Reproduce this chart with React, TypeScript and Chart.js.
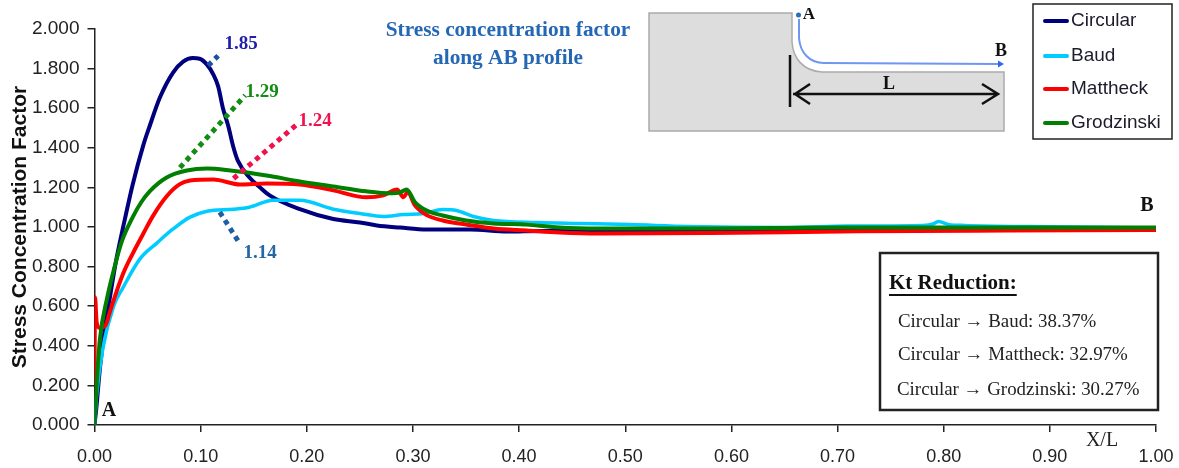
import React, { useEffect, useRef } from "react";
import { Chart, registerables } from "chart.js";

Chart.register(...registerables);

const circularX = [0, 0.002, 0.005, 0.01, 0.015, 0.02, 0.027, 0.036, 0.0458, 0.052, 0.0617, 0.074, 0.0835, 0.0925, 0.099, 0.106, 0.112, 0.1165, 0.121, 0.126, 0.131, 0.135, 0.146, 0.156, 0.165, 0.1935, 0.225, 0.25, 0.266, 0.288, 0.313, 0.354, 0.389, 0.42, 0.5, 0.6, 0.7, 0.8, 0.9, 1];
const circularY = [0, 0.1, 0.28, 0.5, 0.66, 0.82, 1.0, 1.215, 1.41, 1.51, 1.655, 1.78, 1.835, 1.853, 1.85, 1.82, 1.77, 1.71, 1.6, 1.51, 1.4, 1.335, 1.25, 1.2, 1.16, 1.09, 1.04, 1.023, 1.008, 0.997, 0.987, 0.987, 0.977, 0.98, 0.98, 0.985, 0.985, 0.985, 0.985, 0.985];

const baudX = [0, 0.002, 0.008, 0.018, 0.027, 0.043, 0.059, 0.074, 0.09, 0.106, 0.131, 0.146, 0.168, 0.1935, 0.225, 0.25, 0.272, 0.291, 0.31, 0.328, 0.341, 0.357, 0.376, 0.417, 0.457, 0.505, 0.56, 0.65, 0.71, 0.78, 0.79, 0.795, 0.805, 0.82, 0.88, 1];
const baudY = [0, 0.15, 0.39, 0.6, 0.695, 0.84, 0.92, 0.99, 1.05, 1.08, 1.09, 1.1, 1.135, 1.135, 1.09, 1.068, 1.053, 1.063, 1.068, 1.088, 1.083, 1.053, 1.033, 1.023, 1.018, 1.012, 1.003, 0.998, 1.005, 1.008, 1.015, 1.028, 1.012, 1.008, 1.002, 0.995];

const mattheckX = [0, 0.0005, 0.002, 0.005, 0.01, 0.015, 0.018, 0.027, 0.036, 0.046, 0.055, 0.068, 0.08, 0.09, 0.112, 0.137, 0.162, 0.1935, 0.225, 0.256, 0.272, 0.285, 0.291, 0.295, 0.302, 0.313, 0.328, 0.35, 0.376, 0.407, 0.438, 0.476, 0.58, 0.72, 0.86, 1];
const mattheckY = [0.2, 0.645, 0.52, 0.49, 0.5, 0.58, 0.63, 0.765, 0.866, 0.967, 1.055, 1.155, 1.215, 1.235, 1.24, 1.215, 1.22, 1.215, 1.185, 1.15, 1.16, 1.19, 1.15, 1.175, 1.108, 1.06, 1.033, 1.013, 0.992, 0.982, 0.972, 0.967, 0.97, 0.978, 0.982, 0.985];

const grodzinskiX = [0, 0.002, 0.005, 0.0118, 0.019, 0.0256, 0.036, 0.044, 0.052, 0.068, 0.087, 0.106, 0.128, 0.162, 0.1935, 0.225, 0.256, 0.28, 0.288, 0.294, 0.302, 0.313, 0.328, 0.35, 0.376, 0.407, 0.438, 0.476, 0.58, 0.7, 1];
const grodzinskiY = [0, 0.2, 0.43, 0.64, 0.8, 0.925, 1.05, 1.125, 1.18, 1.25, 1.285, 1.295, 1.285, 1.26, 1.23, 1.205, 1.18, 1.17, 1.175, 1.19, 1.125, 1.083, 1.058, 1.033, 1.018, 1.012, 0.997, 0.992, 0.992, 0.998, 0.998];

const seriesNames = ["Circular", "Baud", "Mattheck", "Grodzinski"];
const seriesColors = ["#00007f", "#00ccff", "#ff0000", "#007f00"];

const leaderCircularX = [0.107, 0.1165];
const leaderCircularY = [1.815, 1.865];
const leaderGrodzinskiX = [0.0805, 0.142];
const leaderGrodzinskiY = [1.3, 1.665];
const leaderMattheckX = [0.131, 0.19];
const leaderMattheckY = [1.245, 1.515];
const leaderBaudX = [0.118, 0.137];
const leaderBaudY = [1.075, 0.915];

const peakLabels = ["1.85", "1.29", "1.24", "1.14"];
const reductionTitle = "Kt Reduction:";
const reductionRows = ["Circular → Baud: 38.37%", "Circular → Mattheck: 32.97%", "Circular → Grodzinski: 30.27%"];
const xTicks = [0, 0.1, 0.2, 0.3, 0.4, 0.5, 0.6, 0.7, 0.8, 0.9, 1];

const zip = (xs: number[], ys: number[]) => xs.map((x, i) => ({ x, y: ys[i] }));
const SERIF = '"Liberation Serif"';
const SANS = '"Liberation Sans"';

const text = (ctx: CanvasRenderingContext2D, s: string, x: number, y: number, font: string, color: string, align: CanvasTextAlign = "center") => {
  ctx.font = font;
  ctx.fillStyle = color;
  ctx.textAlign = align;
  ctx.textBaseline = "middle";
  ctx.fillText(s, x, y);
};

const overlay = {
  id: "overlay",
  afterDraw(chart: any) {
    const ctx: CanvasRenderingContext2D = chart.ctx;
    ctx.save();

    // part sketch
    ctx.beginPath();
    ctx.moveTo(649, 13);
    ctx.lineTo(792, 13);
    ctx.lineTo(792, 42);
    ctx.bezierCurveTo(793, 58, 803, 71, 822, 72);
    ctx.lineTo(1004, 72);
    ctx.lineTo(1004, 131);
    ctx.lineTo(649, 131);
    ctx.closePath();
    ctx.fillStyle = "#dddddd";
    ctx.fill();
    ctx.strokeStyle = "#ababab";
    ctx.lineWidth = 1.5;
    ctx.stroke();

    ctx.strokeStyle = "#111";
    ctx.lineWidth = 2.5;
    ctx.beginPath();
    ctx.moveTo(790, 55);
    ctx.lineTo(790, 107);
    ctx.moveTo(793, 94);
    ctx.lineTo(998, 94);
    ctx.moveTo(810, 84);
    ctx.lineTo(795, 94);
    ctx.lineTo(810, 104);
    ctx.moveTo(982, 84);
    ctx.lineTo(998, 94);
    ctx.lineTo(982, 104);
    ctx.stroke();

    ctx.strokeStyle = "#6f96f2";
    ctx.lineWidth = 2;
    ctx.beginPath();
    ctx.moveTo(799, 19);
    ctx.lineTo(799, 38);
    ctx.bezierCurveTo(800, 52, 809, 63, 824, 63);
    ctx.lineTo(998, 64);
    ctx.stroke();
    ctx.fillStyle = "#2f68e8";
    ctx.beginPath();
    ctx.moveTo(1004, 64);
    ctx.lineTo(998, 60.5);
    ctx.lineTo(998, 67.5);
    ctx.closePath();
    ctx.fill();
    ctx.fillStyle = "#2a6fb0";
    ctx.beginPath();
    ctx.arc(798.5, 15, 2.5, 0, Math.PI * 2);
    ctx.fill();
    text(ctx, "A", 809, 15, `bold 17px ${SERIF}`, "#111");
    text(ctx, "B", 1001, 51, `bold 18px ${SERIF}`, "#111");
    text(ctx, "L", 889, 84, `bold 18px ${SERIF}`, "#111");

    // legend box
    ctx.fillStyle = "#fff";
    ctx.fillRect(1033, 4, 139, 135);
    ctx.strokeStyle = "#222";
    ctx.lineWidth = 1.5;
    ctx.strokeRect(1033, 4, 139, 135);
    const rows = [21, 56, 89, 123];
    seriesNames.forEach((name, i) => {
      ctx.strokeStyle = seriesColors[i];
      ctx.lineWidth = 4;
      ctx.lineCap = "round";
      ctx.beginPath();
      ctx.moveTo(1045, rows[i]);
      ctx.lineTo(1067, rows[i]);
      ctx.stroke();
      text(ctx, name, 1071, rows[i], `19px ${SANS}`, "#1c1c2c", "left");
    });
    ctx.lineCap = "butt";

    // titles and labels
    text(ctx, "Stress concentration factor", 508, 30, `bold 21.3px ${SERIF}`, "#2467b4");
    text(ctx, "along AB profile", 508, 58, `bold 21.3px ${SERIF}`, "#2467b4");
    text(ctx, peakLabels[0], 241, 44, `bold 19px ${SERIF}`, "#2020a8");
    text(ctx, peakLabels[1], 262, 92, `bold 19px ${SERIF}`, "#128c12");
    text(ctx, peakLabels[2], 315, 121, `bold 19px ${SERIF}`, "#f0124e");
    text(ctx, peakLabels[3], 260, 253, `bold 19px ${SERIF}`, "#2467a4");
    text(ctx, "A", 109, 411, `bold 20px ${SERIF}`, "#111");
    text(ctx, "B", 1147, 206, `bold 20px ${SERIF}`, "#111");
    text(ctx, "X/L", 1102, 441, `20px ${SERIF}`, "#222");

    // reduction box
    ctx.fillStyle = "#fff";
    ctx.fillRect(880, 253, 278, 157);
    ctx.strokeStyle = "#222";
    ctx.lineWidth = 2.5;
    ctx.strokeRect(880, 253, 278, 157);
    text(ctx, reductionTitle, 889, 284, `bold 21px ${SERIF}`, "#111", "left");
    const w = ctx.measureText(reductionTitle).width;
    ctx.strokeStyle = "#111";
    ctx.lineWidth = 2;
    ctx.beginPath();
    ctx.moveTo(889, 295);
    ctx.lineTo(889 + w, 295);
    ctx.stroke();
    const ys = [322, 355, 390];
    const xs = [898, 898, 897];
    reductionRows.forEach((r, i) => text(ctx, r, xs[i], ys[i], `18.9px ${SERIF}`, "#222", "left"));

    ctx.restore();
  },
};

const line = (label: string, xs: number[], ys: number[], color: string, width: number) => ({
  label,
  data: zip(xs, ys),
  borderColor: color,
  borderWidth: width,
  pointRadius: 0,
  fill: false,
  cubicInterpolationMode: "monotone" as const,
});

const leader = (label: string, xs: number[], ys: number[], color: string) => ({
  label,
  data: zip(xs, ys),
  borderColor: color,
  borderWidth: 5,
  borderDash: [5, 4.6],
  pointRadius: 0,
  fill: false,
});

export default function App() {
  const ref = useRef<HTMLCanvasElement>(null);
  useEffect(() => {
    const chart = new Chart(ref.current!, {
      type: "line",
      data: {
        // Chart.js paints the first dataset last, so the topmost marks come first.
        datasets: [
          leader("l1", leaderCircularX, leaderCircularY, "#1f4fa0"),
          leader("l2", leaderGrodzinskiX, leaderGrodzinskiY, "#128c12"),
          leader("l3", leaderMattheckX, leaderMattheckY, "#f0124e"),
          leader("l4", leaderBaudX, leaderBaudY, "#1f5fa0"),
          line(seriesNames[3], grodzinskiX, grodzinskiY, seriesColors[3], 4),
          line(seriesNames[2], mattheckX, mattheckY, seriesColors[2], 4),
          line(seriesNames[1], baudX, baudY, seriesColors[1], 3.5),
          line(seriesNames[0], circularX, circularY, seriesColors[0], 4),
        ],
      },
      options: {
        responsive: false,
        animation: false,
        layout: { padding: { top: 29, right: 23, left: 0, bottom: 0 } },
        plugins: { legend: { display: false }, tooltip: { enabled: false } },
        scales: {
          x: {
            type: "linear",
            min: 0,
            max: 1,
            afterBuildTicks: (s: any) => {
              s.ticks = xTicks.map((value) => ({ value }));
            },
            afterFit: (s: any) => {
              s.height = 43;
              s.paddingRight = 0;
              s.paddingLeft = 0;
            },
            grid: { drawOnChartArea: false, tickLength: 7, color: "#222", lineWidth: 1.5 },
            border: { color: "#222", width: 1.5 },
            ticks: {
              autoSkip: false,
              maxRotation: 0,
              padding: 14,
              color: "#222",
              font: { family: SANS, size: 18 },
              callback: (v: any) => Number(v).toFixed(2),
            },
          },
          y: {
            min: 0,
            max: 2,
            afterFit: (s: any) => {
              s.width = 94.5;
            },
            title: {
              display: true,
              text: "Stress Concentration Factor",
              color: "#111",
              font: { family: SANS, size: 21, weight: "bold" },
              padding: { top: 8, bottom: 0 },
            },
            grid: { drawOnChartArea: false, tickLength: 7, color: "#222", lineWidth: 1.5 },
            border: { color: "#222", width: 1.5 },
            ticks: {
              stepSize: 0.2,
              padding: 8,
              color: "#222",
              font: { family: SANS, size: 19 },
              callback: (v: any) => Number(v).toFixed(3),
            },
          },
        },
      },
      plugins: [overlay],
    } as any);
    return () => chart.destroy();
  }, []);
  return (
    <div style={{ position: "absolute", left: 0, top: 0, width: 1179, height: 468, background: "#fff" }}>
      <canvas ref={ref} width={1179} height={468} style={{ display: "block" }} />
    </div>
  );
}
